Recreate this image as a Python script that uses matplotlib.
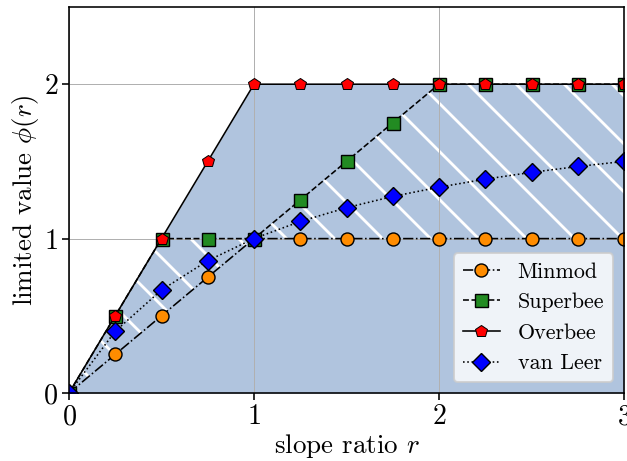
import matplotlib
matplotlib.use("Agg")
import matplotlib.pyplot as plt

plt.rcParams['font.family'] = 'serif'
plt.rcParams['font.serif'] = ['cmr10']
plt.rcParams['mathtext.fontset'] = 'cm'
plt.rcParams['axes.formatter.use_mathtext'] = True
plt.rcParams['hatch.linewidth'] = 1.4

# slope ratio samples and limiter values
r = [0, 0.25, 0.5, 0.75, 1, 1.25, 1.5, 1.75, 2, 2.25, 2.5, 2.75, 3]
minmod = [0, 0.25, 0.5, 0.75, 1, 1, 1, 1, 1, 1, 1, 1, 1]
superbee = [0, 0.5, 1, 1, 1, 1.25, 1.5, 1.75, 2, 2, 2, 2, 2]
overbee = [0, 0.5, 1, 1.5, 2, 2, 2, 2, 2, 2, 2, 2, 2]
vanleer = [0, 0.4, 0.667, 0.857, 1, 1.111, 1.2, 1.273, 1.333, 1.385, 1.429, 1.467, 1.5]

fig = plt.figure(figsize=(627 / 144, 461 / 144), dpi=144)
ax = fig.add_axes([69 / 627, 1 - 393 / 461, 555 / 627, 386 / 461])

ax.fill_between(r, 0, overbee, color='lightsteelblue', lw=0)
ax.fill_between(r, minmod, superbee, facecolor='none', edgecolor='white', hatch='\\', lw=0)

ax.plot(r, minmod, '-.', color='k', lw=0.8, marker='o', ms=6.5, mfc='darkorange', mec='k', mew=0.7, label='Minmod')
ax.plot(r, superbee, '--', color='k', lw=0.8, marker='s', ms=6.5, mfc='forestgreen', mec='k', mew=0.7, label='Superbee')
ax.plot(r, overbee, '-', color='k', lw=0.8, marker='p', ms=6.5, mfc='red', mec='k', mew=0.5, label='Overbee')
ax.plot(r, vanleer, ':', color='k', lw=0.8, marker='D', ms=6.5, mfc='blue', mec='k', mew=0.7, label='van Leer')

ax.set_xlim(0, 3)
ax.set_ylim(0, 2.5)
ax.set_xticks([0, 1, 2, 3])
ax.set_yticks([0, 1, 2])
ax.tick_params(labelsize=14, pad=2)
ax.grid(True, color='#b0b0b0', lw=0.5)
ax.set_xlabel('slope ratio $r$', fontsize=13.5, labelpad=1)
ax.set_ylabel(r'limited value $\phi(r)$', fontsize=13.5, labelpad=1)
ax.legend(loc='lower right', fontsize=11, handlelength=1.7)

fig.savefig('out.png', dpi=144)
